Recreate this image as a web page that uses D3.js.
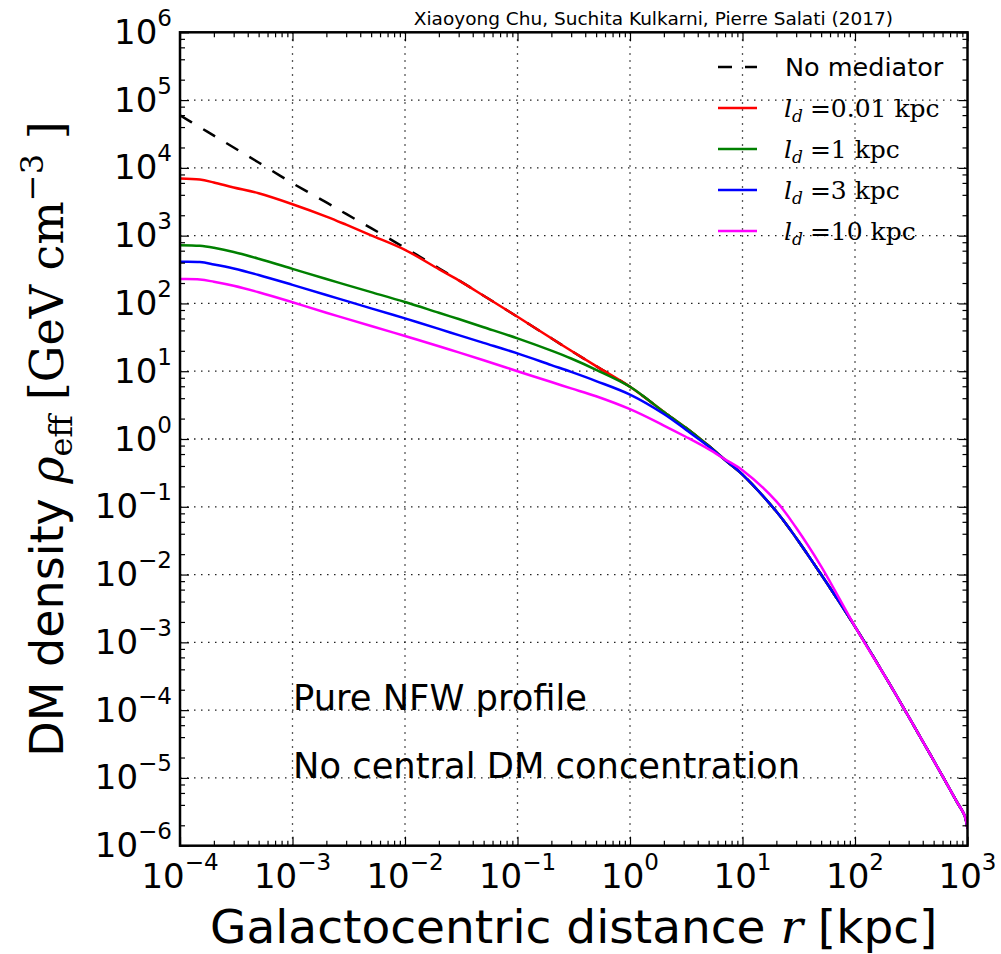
<!DOCTYPE html>
<html>
<head>
<meta charset="utf-8">
<script src="https://cdn.jsdelivr.net/npm/d3@7"></script>
<style>
body { margin: 0; background: #fff; }
</style>
</head>
<body>
<div id="chart"></div>
<script>
// values (r in kpc, density in GeV cm^-3)
const radius = [1e-4, 1.5e-4, 2e-4, 3e-4, 5e-4, 1e-3, 2e-3, 3e-3, 5e-3, 1e-2, 2e-2, 3e-2, 5e-2, 0.1, 0.2, 0.3, 0.5, 1, 2, 3.16, 5, 7, 10, 20, 30, 50, 100, 200, 285, 400, 600, 800, 940, 1000];
const noMediator = [5.97e4, 3.98e4, 2.99e4, 2.0e4, 1.2e4, 5.94e3, 3.09e3, 2.09e3, 1.29e3, 661, 331, 221, 130, 63.5, 30.6, 20.0, 11.9, 5.90, 2.51, 1.45, 0.794, 0.490, 0.299, 0.0851, 0.0347, 0.0100, 1.71e-3, 2.54e-4, 9.25e-5, 3.47e-5, 1.06e-5, 4.52e-6, 2.81e-6, 1.78e-6];
const ld001 = [6.97e3, 6.73e3, 6.08e3, 5.13e3, 4.22e3, 2.91e3, 1.91e3, 1.45e3, 1.01e3, 617, 320, 219, 130, 63.5, 30.6, 20.0, 11.9, 5.90, 2.51, 1.45, 0.794, 0.490, 0.299, 0.0851, 0.0347, 0.0100, 1.71e-3, 2.54e-4, 9.25e-5, 3.47e-5, 1.06e-5, 4.52e-6, 2.81e-6, 1.78e-6];
const ld1 = [724, 708, 661, 575, 457, 324, 229, 188, 147, 105, 72.8, 58.9, 44.6, 30.5, 20.1, 15.4, 10.5, 5.90, 2.51, 1.45, 0.794, 0.490, 0.299, 0.0851, 0.0347, 0.0100, 1.71e-3, 2.54e-4, 9.25e-5, 3.47e-5, 1.06e-5, 4.52e-6, 2.81e-6, 1.78e-6];
const ld3 = [411, 407, 376, 328, 263, 188, 133, 109, 84.5, 60.3, 42.1, 34.1, 26.2, 18.3, 12.3, 9.77, 7.16, 4.52, 2.34, 1.36, 0.776, 0.490, 0.299, 0.0851, 0.0347, 0.0100, 1.71e-3, 2.54e-4, 9.25e-5, 3.47e-5, 1.06e-5, 4.52e-6, 2.81e-6, 1.78e-6];
const ld10 = [229, 226, 209, 182, 146, 104, 72.8, 59.7, 46.5, 33.1, 23.3, 19.0, 14.5, 10.0, 6.92, 5.58, 4.27, 2.75, 1.58, 1.07, 0.708, 0.501, 0.347, 0.120, 0.0490, 0.0132, 1.71e-3, 2.54e-4, 9.25e-5, 3.47e-5, 1.06e-5, 4.52e-6, 2.81e-6, 1.78e-6];

const legendLabels = ['No mediator', '=0.01 kpc', '=1 kpc', '=3 kpc', '=10 kpc'];
const xPowers = [-4, -3, -2, -1, 0, 1, 2, 3];
const yPowers = [-6, -5, -4, -3, -2, -1, 0, 1, 2, 3, 4, 5, 6];
const xMinorSubs = [2, 3, 4, 5, 6, 7, 8, 9];
const yMinorSubs = [2, 4, 6, 8];

const series = [
    { values: noMediator, color: 'black', dash: '14,13' },
    { values: ld001, color: '#ff0000', dash: null },
    { values: ld1, color: '#008000', dash: null },
    { values: ld3, color: '#0000ff', dash: null },
    { values: ld10, color: '#ff00ff', dash: null }
];

const SANS = '"DejaVu Sans", sans-serif';
const SERIF = '"DejaVu Serif", serif';

const plotLeft = 180, plotRight = 967.5, plotTop = 32.3, plotBottom = 845.7;

const svg = d3.select('#chart').append('svg')
    .attr('width', 1001)
    .attr('height', 954);

const x = d3.scaleLog().domain([1e-4, 1e3]).range([plotLeft, plotRight]);
const y = d3.scaleLog().domain([1e-6, 1e6]).range([plotBottom, plotTop]);

// grid
const grid = svg.append('g')
    .attr('stroke', '#222')
    .attr('stroke-width', 1.3)
    .attr('stroke-dasharray', '1.5,5.5');
grid.selectAll('.gx')
    .data(xPowers.slice(1, -1))
    .enter().append('line')
    .attr('x1', p => x(Math.pow(10, p)))
    .attr('x2', p => x(Math.pow(10, p)))
    .attr('y1', plotBottom)
    .attr('y2', plotTop);
grid.selectAll('.gy')
    .data(yPowers.slice(1, -1))
    .enter().append('line')
    .attr('x1', plotLeft)
    .attr('x2', plotRight)
    .attr('y1', p => y(Math.pow(10, p)))
    .attr('y2', p => y(Math.pow(10, p)));

// annotations inside the plot
svg.append('text')
    .attr('x', 293).attr('y', 710)
    .attr('font-family', SANS).attr('font-size', 35.3)
    .text('Pure NFW profile');
svg.append('text')
    .attr('x', 293).attr('y', 778)
    .attr('font-family', SANS).attr('font-size', 35.3)
    .text('No central DM concentration');

// curves
svg.append('clipPath').attr('id', 'plotClip')
    .append('rect')
    .attr('x', plotLeft).attr('y', plotTop)
    .attr('width', plotRight - plotLeft).attr('height', plotBottom - plotTop);

const lineGenerator = d3.line()
    .x((d, i) => x(radius[i]))
    .y(d => y(d))
    .curve(d3.curveCatmullRom.alpha(0.5));

svg.append('g').attr('clip-path', 'url(#plotClip)')
    .selectAll('path')
    .data(series)
    .enter().append('path')
    .attr('d', d => lineGenerator(d.values))
    .attr('fill', 'none')
    .attr('stroke', d => d.color)
    .attr('stroke-width', 2.5)
    .attr('stroke-dasharray', d => d.dash);

// legend
const legend = svg.append('g');
series.forEach(function (s, i) {
    const ly = 67 + i * 41;
    legend.append('line')
        .attr('x1', 718).attr('x2', 757)
        .attr('y1', ly).attr('y2', ly)
        .attr('stroke', s.color)
        .attr('stroke-width', 2.5)
        .attr('stroke-dasharray', s.dash);
    if (i === 0) {
        legend.append('text')
            .attr('x', 785).attr('y', ly + 9)
            .attr('font-family', SANS).attr('font-size', 25.5)
            .text(legendLabels[i]);
    } else {
        const t = legend.append('text')
            .attr('x', 784).attr('y', ly + 9)
            .attr('font-family', SERIF).attr('font-size', 25);
        t.append('tspan').attr('font-style', 'italic').text('l');
        t.append('tspan').attr('font-style', 'italic').attr('font-size', 17).attr('dy', 5).text('d');
        t.append('tspan').attr('dy', -5).attr('dx', 7).text(legendLabels[i]);
    }
});

// frame
svg.append('rect')
    .attr('x', plotLeft).attr('y', plotTop)
    .attr('width', plotRight - plotLeft).attr('height', plotBottom - plotTop)
    .attr('fill', 'none')
    .attr('stroke', 'black')
    .attr('stroke-width', 2.5);

// ticks (inward, on all four sides)
const xMajor = xPowers.map(p => Math.pow(10, p));
const yMajor = yPowers.map(p => Math.pow(10, p));
const xMinor = xPowers.slice(0, -1).flatMap(p => xMinorSubs.map(k => k * Math.pow(10, p)));
const yMinor = yPowers.slice(0, -1).flatMap(p => yMinorSubs.map(k => k * Math.pow(10, p)));

function drawTicks(axis, translate) {
    const g = svg.append('g').attr('transform', translate).call(axis);
    g.select('.domain').remove();
    g.selectAll('text').remove();
    g.selectAll('line').attr('stroke', 'black').attr('stroke-width', 1.2);
}
drawTicks(d3.axisBottom(x).tickValues(xMajor).tickSize(-9), `translate(0,${plotBottom})`);
drawTicks(d3.axisBottom(x).tickValues(xMinor).tickSize(-5), `translate(0,${plotBottom})`);
drawTicks(d3.axisTop(x).tickValues(xMajor).tickSize(-9), `translate(0,${plotTop})`);
drawTicks(d3.axisTop(x).tickValues(xMinor).tickSize(-5), `translate(0,${plotTop})`);
drawTicks(d3.axisLeft(y).tickValues(yMajor).tickSize(-9), `translate(${plotLeft},0)`);
drawTicks(d3.axisLeft(y).tickValues(yMinor).tickSize(-5), `translate(${plotLeft},0)`);
drawTicks(d3.axisRight(y).tickValues(yMajor).tickSize(-9), `translate(${plotRight},0)`);
drawTicks(d3.axisRight(y).tickValues(yMinor).tickSize(-5), `translate(${plotRight},0)`);

// tick labels 10^n
function powerLabel(sel, p) {
    sel.append('tspan').text('10');
    sel.append('tspan').attr('font-size', 23).attr('dy', -18)
        .text(p < 0 ? '\u2212' + Math.abs(p) : String(p));
}
xPowers.forEach(function (p) {
    const t = svg.append('text')
        .attr('x', x(Math.pow(10, p))).attr('y', 888)
        .attr('text-anchor', 'middle')
        .attr('font-family', SANS).attr('font-size', 34);
    powerLabel(t, p);
});
yPowers.forEach(function (p) {
    const t = svg.append('text')
        .attr('x', 172).attr('y', y(Math.pow(10, p)) + 11.5)
        .attr('text-anchor', 'end')
        .attr('font-family', SANS).attr('font-size', 34);
    powerLabel(t, p);
});

// axis titles
const xTitle = svg.append('text')
    .attr('x', (plotLeft + plotRight) / 2).attr('y', 943)
    .attr('text-anchor', 'middle')
    .attr('font-family', SANS).attr('font-size', 47);
xTitle.append('tspan').text('Galactocentric distance ');
xTitle.append('tspan').attr('font-family', SERIF).attr('font-style', 'italic').text('r');
xTitle.append('tspan').text(' [kpc]');

const yTitle = svg.append('text')
    .attr('transform', `translate(63,${(plotTop + plotBottom) / 2}) rotate(-90)`)
    .attr('text-anchor', 'middle')
    .attr('font-family', SANS).attr('font-size', 46);
yTitle.append('tspan').text('DM density ');
yTitle.append('tspan').attr('font-family', SERIF).attr('font-style', 'italic').text('\u03C1');
yTitle.append('tspan').attr('font-family', SERIF).attr('font-size', 32).attr('dy', 9).text('eff');
yTitle.append('tspan').attr('font-family', SERIF).attr('dy', -9).text(' [GeV cm');
yTitle.append('tspan').attr('font-family', SERIF).attr('font-size', 32).attr('dy', -20).text('\u22123');
yTitle.append('tspan').attr('font-family', SERIF).attr('dy', 20).text(' ]');

// credit line
svg.append('text')
    .attr('x', 893).attr('y', 25)
    .attr('text-anchor', 'end')
    .attr('font-family', SANS).attr('font-size', 18.5)
    .text('Xiaoyong Chu, Suchita Kulkarni, Pierre Salati (2017)');
</script>
</body>
</html>
